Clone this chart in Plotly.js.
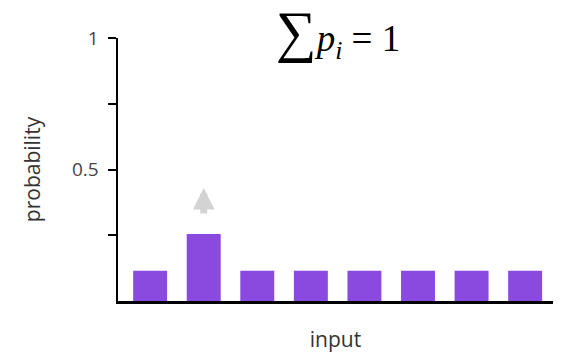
<!DOCTYPE html>
<html>
<head>
<meta charset="utf-8">
<script src="https://cdn.plot.ly/plotly-3.0.1.min.js"></script>
<style>
  html, body { margin: 0; padding: 0; background: #fff; }
  #chart { width: 566px; height: 362px; }
</style>
</head>
<body>
<div id="chart"></div>
<script>
// Eight inputs, one of which has a raised probability
const categories = ["a", "b", "c", "d", "e", "f", "g", "h"];
const probabilities = [0.115, 0.255, 0.115, 0.115, 0.115, 0.115, 0.115, 0.115];
const yTickVals = [0.5, 1];
const yTickText = ["0.5", "1"];
const raisedIndex = 1;

const sansFont = "'Open Sans', Lato, sans-serif";

const trace = {
  type: "bar",
  x: categories.map((_, i) => i),
  y: probabilities,
  marker: { color: "#8a4ae0", line: { width: 0 } },
  hoverinfo: "skip"
};

const layout = {
  width: 566,
  height: 362,
  margin: { l: 118, r: 13, t: 38, b: 61 },
  paper_bgcolor: "#fff",
  plot_bgcolor: "#fff",
  showlegend: false,
  bargap: 0.366,
  xaxis: {
    range: [-0.6, 7.52],
    showgrid: false,
    zeroline: false,
    showticklabels: false,
    ticks: "",
    showline: true,
    linecolor: "#000",
    linewidth: 2.5,
    title: { text: "input", font: { family: sansFont, size: 21, color: "#333" }, standoff: 30 }
  },
  yaxis: {
    range: [0, 1],
    showgrid: false,
    zeroline: false,
    showline: true,
    linecolor: "#000",
    linewidth: 2.5,
    ticks: "outside",
    ticklen: 8,
    tickwidth: 2,
    tickcolor: "#000",
    tickvals: yTickVals,
    ticktext: yTickText,
    ticklabelstandoff: 5,
    tickfont: { family: sansFont, size: 19, color: "#444" },
    minor: { tickvals: [0.25, 0.75], ticks: "outside", ticklen: 8, tickwidth: 2, tickcolor: "#000", showgrid: false },
    title: { text: "probability", font: { family: sansFont, size: 21, color: "#333" }, standoff: 26 }
  },
  annotations: [
    {
      // formula above the plot
      xref: "paper", yref: "paper",
      x: 0.505, y: 1.02,
      xanchor: "center", yanchor: "middle",
      showarrow: false,
      text: "<span style='font-size:57px'>∑</span><i>p</i><sub><i>i</i></sub> = 1",
      font: { family: "'Liberation Serif', 'DejaVu Serif', serif", size: 37, color: "#000" }
    },
    {
      // upward arrow over the raised bar
      x: raisedIndex, y: probabilities[raisedIndex] + 0.175,
      xref: "x", yref: "y",
      ax: 0, ay: 27,
      text: "",
      showarrow: true,
      arrowhead: 2,
      arrowsize: 0.62,
      arrowwidth: 7,
      arrowcolor: "#d3d3d3"
    }
  ]
};

Plotly.newPlot("chart", [trace], layout, { staticPlot: true, displayModeBar: false });
</script>
</body>
</html>
